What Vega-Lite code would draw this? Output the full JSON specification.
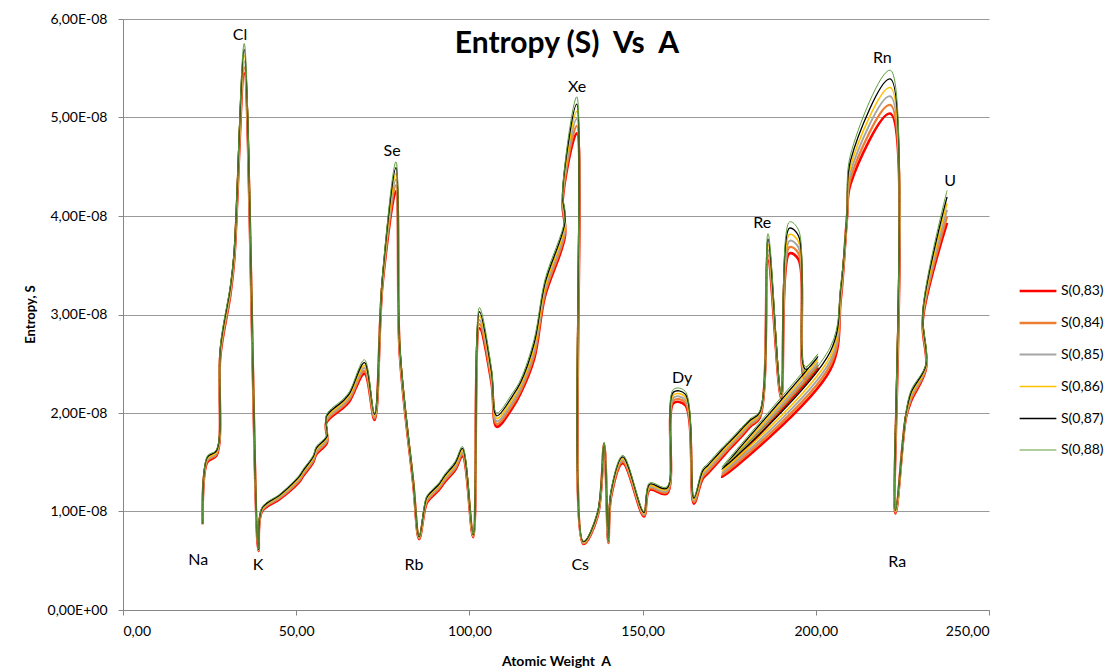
{
  "$schema": "https://vega.github.io/schema/vega-lite/v6.json",
  "autosize": "none",
  "width": 866,
  "height": 591,
  "padding": {"left": 123, "top": 19, "right": 125, "bottom": 62},
  "background": "white",
  "title": {
    "text": "Entropy (S)\u00a0\u00a0Vs\u00a0\u00a0A",
    "font": "Lato",
    "fontSize": 30,
    "fontWeight": "bold",
    "color": "#000000",
    "anchor": "middle",
    "frame": "group",
    "offset": -36,
    "baseline": "bottom",
    "dx": 11,
    "dy": 41
  },
  "config": {
    "view": {"stroke": null},
    "font": "Lato",
    "axis": {"labelFont": "Lato", "titleFont": "Lato", "labelColor": "#000000", "titleColor": "#000000"}
  },
  "layer": [
    {
      "data": {
        "values": [
          {"i":1,"A":23.0,"s83":0.870e-8,"s84":0.872e-8,"s85":0.874e-8,"s86":0.876e-8,"s87":0.878e-8,"s88":0.880e-8},
          {"i":2,"A":24.3,"s83":1.500e-8,"s84":1.512e-8,"s85":1.524e-8,"s86":1.536e-8,"s87":1.548e-8,"s88":1.560e-8},
          {"i":3,"A":27.0,"s83":1.570e-8,"s84":1.582e-8,"s85":1.594e-8,"s86":1.606e-8,"s87":1.618e-8,"s88":1.630e-8},
          {"i":4,"A":28.1,"s83":2.580e-8,"s84":2.600e-8,"s85":2.620e-8,"s86":2.640e-8,"s87":2.660e-8,"s88":2.680e-8},
          {"i":5,"A":31.0,"s83":3.200e-8,"s84":3.220e-8,"s85":3.240e-8,"s86":3.260e-8,"s87":3.280e-8,"s88":3.300e-8},
          {"i":6,"A":32.1,"s83":3.550e-8,"s84":3.572e-8,"s85":3.594e-8,"s86":3.616e-8,"s87":3.638e-8,"s88":3.660e-8},
          {"i":7,"A":35.0,"s83":5.450e-8,"s84":5.510e-8,"s85":5.570e-8,"s86":5.630e-8,"s87":5.690e-8,"s88":5.750e-8},
          {"i":8,"A":39.1,"s83":0.600e-8,"s84":0.604e-8,"s85":0.608e-8,"s86":0.612e-8,"s87":0.616e-8,"s88":0.620e-8},
          {"i":9,"A":40.1,"s83":1.000e-8,"s84":1.008e-8,"s85":1.016e-8,"s86":1.024e-8,"s87":1.032e-8,"s88":1.040e-8},
          {"i":10,"A":45.0,"s83":1.120e-8,"s84":1.130e-8,"s85":1.140e-8,"s86":1.150e-8,"s87":1.160e-8,"s88":1.170e-8},
          {"i":11,"A":47.9,"s83":1.200e-8,"s84":1.212e-8,"s85":1.224e-8,"s86":1.236e-8,"s87":1.248e-8,"s88":1.260e-8},
          {"i":12,"A":50.9,"s83":1.300e-8,"s84":1.314e-8,"s85":1.328e-8,"s86":1.342e-8,"s87":1.356e-8,"s88":1.370e-8},
          {"i":13,"A":52.0,"s83":1.360e-8,"s84":1.374e-8,"s85":1.388e-8,"s86":1.402e-8,"s87":1.416e-8,"s88":1.430e-8},
          {"i":14,"A":54.9,"s83":1.500e-8,"s84":1.514e-8,"s85":1.528e-8,"s86":1.542e-8,"s87":1.556e-8,"s88":1.570e-8},
          {"i":15,"A":55.8,"s83":1.580e-8,"s84":1.596e-8,"s85":1.612e-8,"s86":1.628e-8,"s87":1.644e-8,"s88":1.660e-8},
          {"i":16,"A":58.9,"s83":1.700e-8,"s84":1.716e-8,"s85":1.732e-8,"s86":1.748e-8,"s87":1.764e-8,"s88":1.780e-8},
          {"i":17,"A":58.7,"s83":1.900e-8,"s84":1.916e-8,"s85":1.932e-8,"s86":1.948e-8,"s87":1.964e-8,"s88":1.980e-8},
          {"i":18,"A":63.5,"s83":2.050e-8,"s84":2.068e-8,"s85":2.086e-8,"s86":2.104e-8,"s87":2.122e-8,"s88":2.140e-8},
          {"i":19,"A":65.4,"s83":2.120e-8,"s84":2.140e-8,"s85":2.160e-8,"s86":2.180e-8,"s87":2.200e-8,"s88":2.220e-8},
          {"i":20,"A":69.7,"s83":2.400e-8,"s84":2.428e-8,"s85":2.456e-8,"s86":2.484e-8,"s87":2.512e-8,"s88":2.540e-8},
          {"i":21,"A":72.6,"s83":1.930e-8,"s84":1.944e-8,"s85":1.958e-8,"s86":1.972e-8,"s87":1.986e-8,"s88":2.000e-8},
          {"i":22,"A":74.9,"s83":3.300e-8,"s84":3.320e-8,"s85":3.340e-8,"s86":3.360e-8,"s87":3.380e-8,"s88":3.400e-8},
          {"i":23,"A":78.8,"s83":4.250e-8,"s84":4.310e-8,"s85":4.370e-8,"s86":4.430e-8,"s87":4.490e-8,"s88":4.550e-8},
          {"i":24,"A":79.9,"s83":2.600e-8,"s84":2.620e-8,"s85":2.640e-8,"s86":2.660e-8,"s87":2.680e-8,"s88":2.700e-8},
          {"i":25,"A":83.8,"s83":1.280e-8,"s84":1.288e-8,"s85":1.296e-8,"s86":1.304e-8,"s87":1.312e-8,"s88":1.320e-8},
          {"i":26,"A":85.5,"s83":0.720e-8,"s84":0.726e-8,"s85":0.732e-8,"s86":0.738e-8,"s87":0.744e-8,"s88":0.750e-8},
          {"i":27,"A":87.6,"s83":1.080e-8,"s84":1.094e-8,"s85":1.108e-8,"s86":1.122e-8,"s87":1.136e-8,"s88":1.150e-8},
          {"i":28,"A":88.9,"s83":1.140e-8,"s84":1.154e-8,"s85":1.168e-8,"s86":1.182e-8,"s87":1.196e-8,"s88":1.210e-8},
          {"i":29,"A":91.2,"s83":1.220e-8,"s84":1.234e-8,"s85":1.248e-8,"s86":1.262e-8,"s87":1.276e-8,"s88":1.290e-8},
          {"i":30,"A":92.9,"s83":1.300e-8,"s84":1.316e-8,"s85":1.332e-8,"s86":1.348e-8,"s87":1.364e-8,"s88":1.380e-8},
          {"i":31,"A":95.9,"s83":1.420e-8,"s84":1.438e-8,"s85":1.456e-8,"s86":1.474e-8,"s87":1.492e-8,"s88":1.510e-8},
          {"i":32,"A":98.0,"s83":1.560e-8,"s84":1.580e-8,"s85":1.600e-8,"s86":1.620e-8,"s87":1.640e-8,"s88":1.660e-8},
          {"i":33,"A":101.1,"s83":0.740e-8,"s84":0.746e-8,"s85":0.752e-8,"s86":0.758e-8,"s87":0.764e-8,"s88":0.770e-8},
          {"i":34,"A":102.9,"s83":2.860e-8,"s84":2.902e-8,"s85":2.944e-8,"s86":2.986e-8,"s87":3.028e-8,"s88":3.070e-8},
          {"i":35,"A":106.4,"s83":2.300e-8,"s84":2.330e-8,"s85":2.360e-8,"s86":2.390e-8,"s87":2.420e-8,"s88":2.450e-8},
          {"i":36,"A":107.9,"s83":1.860e-8,"s84":1.888e-8,"s85":1.916e-8,"s86":1.944e-8,"s87":1.972e-8,"s88":2.000e-8},
          {"i":37,"A":112.4,"s83":2.050e-8,"s84":2.080e-8,"s85":2.110e-8,"s86":2.140e-8,"s87":2.170e-8,"s88":2.200e-8},
          {"i":38,"A":114.8,"s83":2.200e-8,"s84":2.228e-8,"s85":2.256e-8,"s86":2.284e-8,"s87":2.312e-8,"s88":2.340e-8},
          {"i":39,"A":118.7,"s83":2.550e-8,"s84":2.590e-8,"s85":2.630e-8,"s86":2.670e-8,"s87":2.710e-8,"s88":2.750e-8},
          {"i":40,"A":121.8,"s83":3.180e-8,"s84":3.214e-8,"s85":3.248e-8,"s86":3.282e-8,"s87":3.316e-8,"s88":3.350e-8},
          {"i":41,"A":127.6,"s83":3.800e-8,"s84":3.836e-8,"s85":3.872e-8,"s86":3.908e-8,"s87":3.944e-8,"s88":3.980e-8},
          {"i":42,"A":126.9,"s83":4.150e-8,"s84":4.170e-8,"s85":4.190e-8,"s86":4.210e-8,"s87":4.230e-8,"s88":4.250e-8},
          {"i":43,"A":131.0,"s83":4.840e-8,"s84":4.914e-8,"s85":4.988e-8,"s86":5.062e-8,"s87":5.136e-8,"s88":5.210e-8},
          {"i":44,"A":132.9,"s83":0.670e-8,"s84":0.676e-8,"s85":0.682e-8,"s86":0.688e-8,"s87":0.694e-8,"s88":0.700e-8},
          {"i":45,"A":137.0,"s83":0.950e-8,"s84":0.960e-8,"s85":0.970e-8,"s86":0.980e-8,"s87":0.990e-8,"s88":1.000e-8},
          {"i":46,"A":138.9,"s83":1.680e-8,"s84":1.684e-8,"s85":1.688e-8,"s86":1.692e-8,"s87":1.696e-8,"s88":1.700e-8},
          {"i":47,"A":140.1,"s83":0.680e-8,"s84":0.684e-8,"s85":0.688e-8,"s86":0.692e-8,"s87":0.696e-8,"s88":0.700e-8},
          {"i":48,"A":140.9,"s83":1.150e-8,"s84":1.164e-8,"s85":1.178e-8,"s86":1.192e-8,"s87":1.206e-8,"s88":1.220e-8},
          {"i":49,"A":144.3,"s83":1.490e-8,"s84":1.506e-8,"s85":1.522e-8,"s86":1.538e-8,"s87":1.554e-8,"s88":1.570e-8},
          {"i":50,"A":150.4,"s83":0.950e-8,"s84":0.960e-8,"s85":0.970e-8,"s86":0.980e-8,"s87":0.990e-8,"s88":1.000e-8},
          {"i":51,"A":152.0,"s83":1.220e-8,"s84":1.234e-8,"s85":1.248e-8,"s86":1.262e-8,"s87":1.276e-8,"s88":1.290e-8},
          {"i":52,"A":157.0,"s83":1.180e-8,"s84":1.194e-8,"s85":1.208e-8,"s86":1.222e-8,"s87":1.236e-8,"s88":1.250e-8},
          {"i":53,"A":158.9,"s83":2.100e-8,"s84":2.128e-8,"s85":2.156e-8,"s86":2.184e-8,"s87":2.212e-8,"s88":2.240e-8},
          {"i":54,"A":162.3,"s83":2.080e-8,"s84":2.108e-8,"s85":2.136e-8,"s86":2.164e-8,"s87":2.192e-8,"s88":2.220e-8},
          {"i":55,"A":164.8,"s83":1.080e-8,"s84":1.094e-8,"s85":1.108e-8,"s86":1.122e-8,"s87":1.136e-8,"s88":1.150e-8},
          {"i":56,"A":167.3,"s83":1.330e-8,"s84":1.350e-8,"s85":1.370e-8,"s86":1.390e-8,"s87":1.410e-8,"s88":1.430e-8},
          {"i":57,"A":168.9,"s83":1.390e-8,"s84":1.410e-8,"s85":1.430e-8,"s86":1.450e-8,"s87":1.470e-8,"s88":1.490e-8},
          {"i":58,"A":173.0,"s83":1.550e-8,"s84":1.570e-8,"s85":1.590e-8,"s86":1.610e-8,"s87":1.630e-8,"s88":1.650e-8},
          {"i":59,"A":175.0,"s83":1.630e-8,"s84":1.648e-8,"s85":1.666e-8,"s86":1.684e-8,"s87":1.702e-8,"s88":1.720e-8},
          {"i":60,"A":178.5,"s83":1.760e-8,"s84":1.778e-8,"s85":1.796e-8,"s86":1.814e-8,"s87":1.832e-8,"s88":1.850e-8},
          {"i":61,"A":181.0,"s83":1.860e-8,"s84":1.876e-8,"s85":1.892e-8,"s86":1.908e-8,"s87":1.924e-8,"s88":1.940e-8},
          {"i":62,"A":183.8,"s83":1.950e-8,"s84":1.964e-8,"s85":1.978e-8,"s86":1.992e-8,"s87":2.006e-8,"s88":2.020e-8},
          {"i":63,"A":186.2,"s83":3.550e-8,"s84":3.604e-8,"s85":3.658e-8,"s86":3.712e-8,"s87":3.766e-8,"s88":3.820e-8},
          {"i":64,"A":190.0,"s83":2.150e-8,"s84":2.160e-8,"s85":2.170e-8,"s86":2.180e-8,"s87":2.190e-8,"s88":2.200e-8},
          {"i":65,"A":192.4,"s83":3.620e-8,"s84":3.684e-8,"s85":3.748e-8,"s86":3.812e-8,"s87":3.876e-8,"s88":3.940e-8},
          {"i":66,"A":195.0,"s83":3.560e-8,"s84":3.620e-8,"s85":3.680e-8,"s86":3.740e-8,"s87":3.800e-8,"s88":3.860e-8},
          {"i":67,"A":197.0,"s83":2.340e-8,"s84":2.366e-8,"s85":2.392e-8,"s86":2.418e-8,"s87":2.444e-8,"s88":2.470e-8},
          {"i":68,"A":200.6,"s83":2.450e-8,"s84":2.480e-8,"s85":2.510e-8,"s86":2.540e-8,"s87":2.570e-8,"s88":2.600e-8},
          {"i":69,"A":172.9,"s83":1.350e-8,"s84":1.370e-8,"s85":1.390e-8,"s86":1.410e-8,"s87":1.430e-8,"s88":1.450e-8},
          {"i":70,"A":204.2,"s83":2.440e-8,"s84":2.486e-8,"s85":2.532e-8,"s86":2.578e-8,"s87":2.624e-8,"s88":2.670e-8},
          {"i":71,"A":207.2,"s83":3.150e-8,"s84":3.180e-8,"s85":3.210e-8,"s86":3.240e-8,"s87":3.270e-8,"s88":3.300e-8},
          {"i":72,"A":209.0,"s83":3.980e-8,"s84":3.988e-8,"s85":3.996e-8,"s86":4.004e-8,"s87":4.012e-8,"s88":4.020e-8},
          {"i":73,"A":210.0,"s83":4.320e-8,"s84":4.380e-8,"s85":4.440e-8,"s86":4.500e-8,"s87":4.560e-8,"s88":4.620e-8},
          {"i":74,"A":221.5,"s83":5.040e-8,"s84":5.128e-8,"s85":5.216e-8,"s86":5.304e-8,"s87":5.392e-8,"s88":5.480e-8},
          {"i":75,"A":223.0,"s83":0.980e-8,"s84":0.988e-8,"s85":0.996e-8,"s86":1.004e-8,"s87":1.012e-8,"s88":1.020e-8},
          {"i":76,"A":226.0,"s83":1.950e-8,"s84":1.960e-8,"s85":1.970e-8,"s86":1.980e-8,"s87":1.990e-8,"s88":2.000e-8},
          {"i":77,"A":227.5,"s83":2.120e-8,"s84":2.142e-8,"s85":2.164e-8,"s86":2.186e-8,"s87":2.208e-8,"s88":2.230e-8},
          {"i":78,"A":231.8,"s83":2.450e-8,"s84":2.460e-8,"s85":2.470e-8,"s86":2.480e-8,"s87":2.490e-8,"s88":2.500e-8},
          {"i":79,"A":230.9,"s83":2.950e-8,"s84":2.970e-8,"s85":2.990e-8,"s86":3.010e-8,"s87":3.030e-8,"s88":3.050e-8},
          {"i":80,"A":237.9,"s83":3.930e-8,"s84":3.996e-8,"s85":4.062e-8,"s86":4.128e-8,"s87":4.194e-8,"s88":4.260e-8}
        ]
      },
      "transform": [
        {"fold": ["s83", "s84", "s85", "s86", "s87", "s88"], "as": ["series", "S"]}
      ],
      "mark": {"type": "line", "interpolate": "catmull-rom", "clip": true},
      "encoding": {
        "x": {
          "field": "A", "type": "quantitative",
          "scale": {"domain": [0, 250], "nice": false, "zero": true},
          "axis": {
            "title": "Atomic Weight\u00a0\u00a0A",
            "values": [0, 50, 100, 150, 200, 250],
            "labelExpr": "replace(format(datum.value, '.2f'), '.', ',')",
            "labelFontSize": 14,
            "labelPadding": 9,
            "tickSize": 5,
            "tickColor": "#868686",
            "domainColor": "#868686",
            "grid": false,
            "titleFontSize": 14,
            "titleFontWeight": "bold",
            "titleY": 51,
            "titleBaseline": "middle"
          }
        },
        "y": {
          "field": "S", "type": "quantitative",
          "scale": {"domain": [0, 6e-8], "nice": false},
          "axis": {
            "title": "Entropy, S",
            "values": [0, 1e-8, 2e-8, 3e-8, 4e-8, 5e-8, 6e-8],
            "labelExpr": "replace(replace(replace(format(datum.value, '.2e'), '.', ','), 'e-', 'E-0'), 'e+', 'E+0')",
            "labelFontSize": 14,
            "labelPadding": 11,
            "tickSize": 5,
            "tickColor": "#868686",
            "domainColor": "#868686",
            "grid": true,
            "gridColor": "#9a9a9a",
            "gridWidth": 1,
            "titleFontSize": 13,
            "titleFontWeight": "bold",
            "titleX": -93,
            "titleY": 295,
            "titleAngle": -90,
            "titleAlign": "center",
            "titleBaseline": "middle"
          }
        },
        "order": {"field": "i", "type": "quantitative"},
        "color": {
          "field": "series", "type": "nominal",
          "scale": {
            "domain": ["s83", "s84", "s85", "s86", "s87", "s88"],
            "range": ["#FF0000", "#ED7D31", "#A5A5A5", "#FFC000", "#000000", "#5E9E3A"]
          },
          "legend": {
            "title": null,
            "orient": "none",
            "legendX": 895,
            "legendY": 252,
            "symbolType": "stroke",
            "symbolSize": 1350,
            "labelExpr": "'S(0,' + substring(datum.label, 1) + ')'",
            "labelFont": "Lato",
            "labelFontSize": 14,
            "labelColor": "#000000",
            "labelOffset": 3,
            "rowPadding": 5
          }
        },
        "strokeWidth": {
          "field": "series", "type": "ordinal",
          "scale": {
            "domain": ["s83", "s84", "s85", "s86", "s87", "s88"],
            "range": [2.6, 1, 1, 1, 1, 1]
          },
          "legend": {
            "title": null,
            "orient": "none",
            "legendX": 895,
            "legendY": 252,
            "symbolType": "stroke",
            "symbolSize": 1350,
            "labelExpr": "'S(0,' + substring(datum.label, 1) + ')'",
            "labelFont": "Lato",
            "labelFontSize": 14,
            "labelColor": "#000000",
            "labelOffset": 3,
            "rowPadding": 5
          }
        }
      }
    },
    {
      "data": {
        "values": [
          {"name": "Na", "A": 21.7, "S": 0.51e-8},
          {"name": "Cl", "A": 33.8, "S": 5.84e-8},
          {"name": "K", "A": 39.0, "S": 0.46e-8},
          {"name": "Se", "A": 77.7, "S": 4.66e-8},
          {"name": "Rb", "A": 84.0, "S": 0.46e-8},
          {"name": "Xe", "A": 131.1, "S": 5.31e-8},
          {"name": "Cs", "A": 132.0, "S": 0.46e-8},
          {"name": "Dy", "A": 161.4, "S": 2.36e-8},
          {"name": "Re", "A": 184.5, "S": 3.93e-8},
          {"name": "Rn", "A": 219.2, "S": 5.60e-8},
          {"name": "U", "A": 238.8, "S": 4.36e-8},
          {"name": "Ra", "A": 223.5, "S": 0.49e-8}
        ]
      },
      "mark": {"type": "text", "font": "Lato", "fontSize": 16, "color": "#000000", "baseline": "middle", "align": "center"},
      "encoding": {
        "x": {"field": "A", "type": "quantitative"},
        "y": {"field": "S", "type": "quantitative"},
        "text": {"field": "name"}
      }
    }
  ]
}
